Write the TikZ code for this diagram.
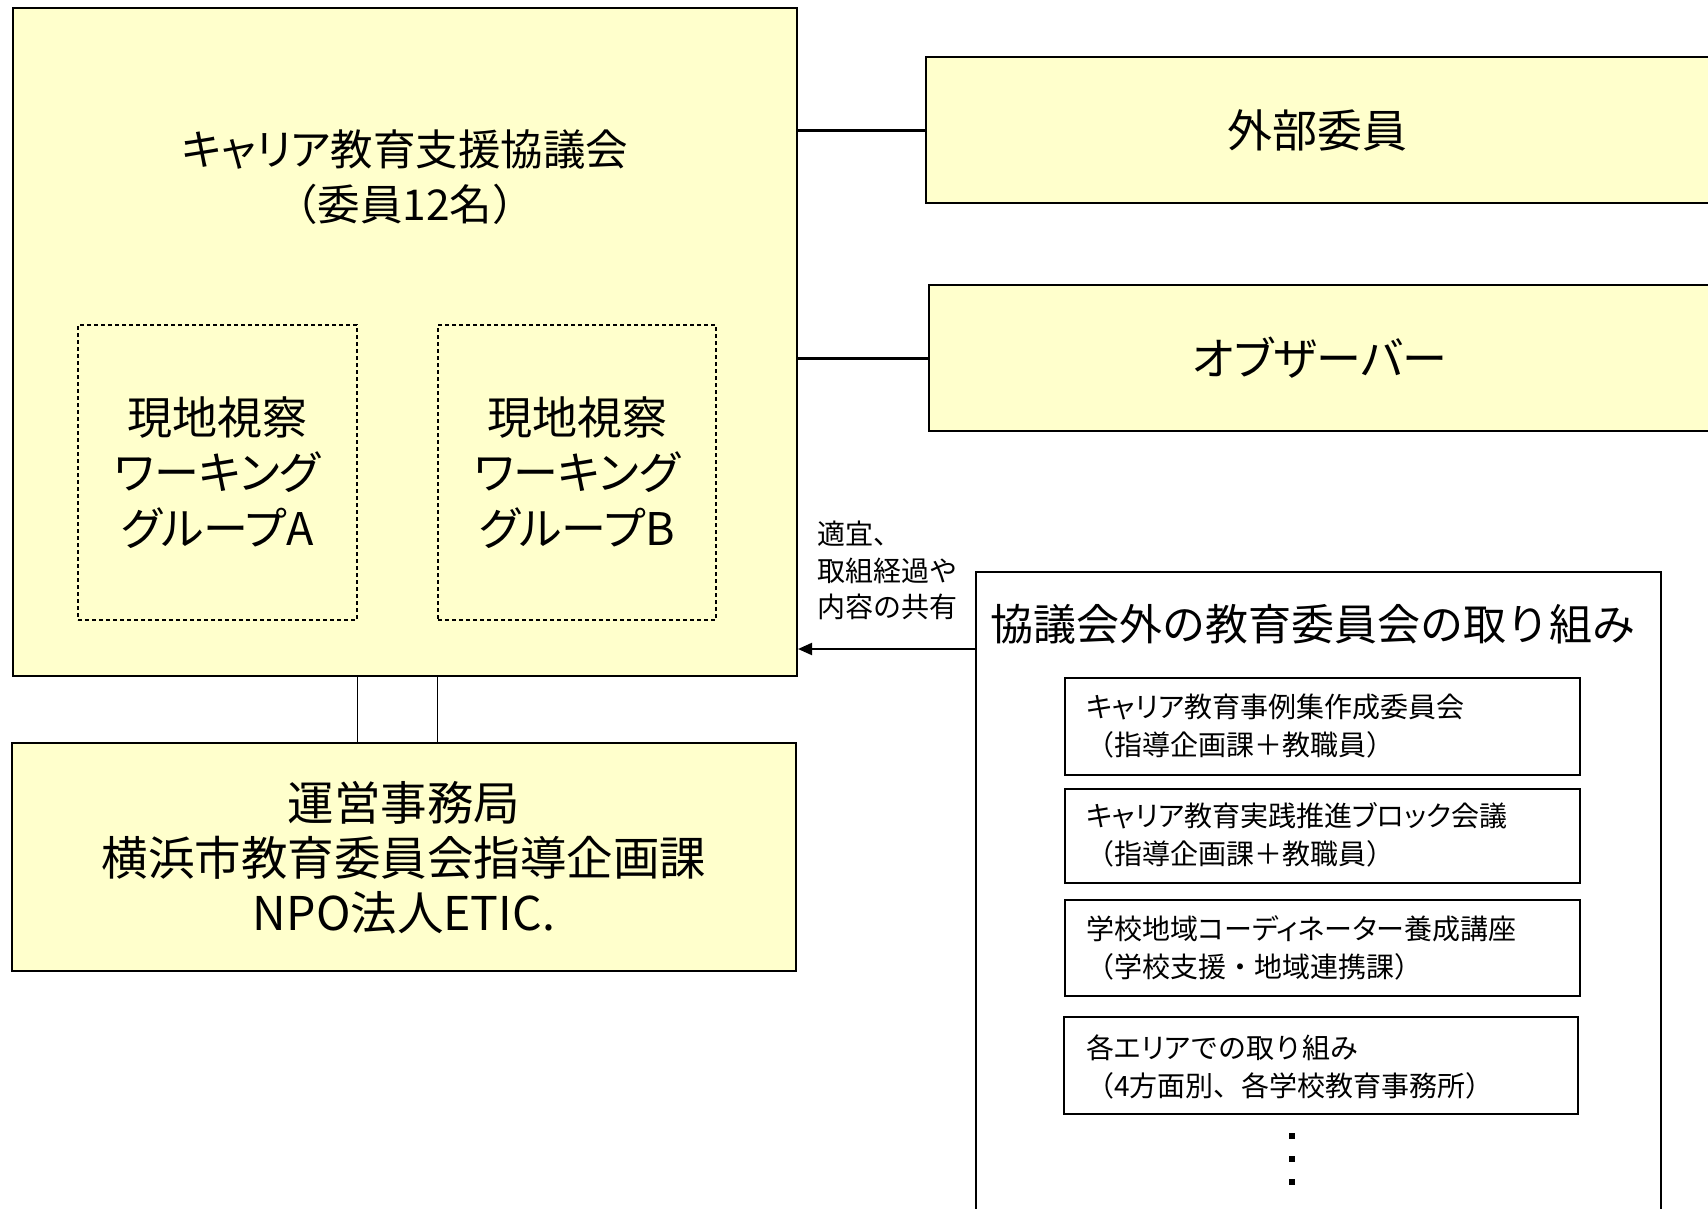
\documentclass[tikz,border=0pt]{standalone}
\usepackage{fontspec}
\setmainfont{Noto Sans CJK JP}
\newfontfamily\kp[CharacterWidth=AlternateProportional]{Noto Sans CJK JP}
\usetikzlibrary{arrows.meta}
\definecolor{boxyellow}{HTML}{FFFFCC}
\tikzset{
  ybox/.style={draw=black, line width=2pt, fill=boxyellow, inner sep=0pt, anchor=center},
  wbox/.style={draw=black, line width=2pt, fill=white, inner sep=0pt, anchor=center},
  dbox/.style={draw=black, line width=1.3pt, dash pattern=on 4pt off 3pt, fill=boxyellow, inner sep=0pt, anchor=center},
  bigtxt/.style={align=center, inner sep=0pt, font=\fontsize{42.5pt}{55.6pt}\selectfont},
  wgtxt/.style={align=center, inner sep=0pt, font=\fontsize{45pt}{55.5pt}\selectfont},
  sectxt/.style={align=center, inner sep=0pt, font=\fontsize{46.5pt}{55pt}\selectfont},
  smalltxt/.style={align=left, inner sep=0pt, anchor=west, font=\fontsize{28pt}{38pt}\selectfont},
  lbltxt/.style={align=left, inner sep=0pt, anchor=north west, font=\fontsize{28pt}{36.5pt}\selectfont},
  link/.style={draw=black, line width=3pt},
  thin/.style={draw=black, line width=1.5pt},
}
\begin{document}
\begin{tikzpicture}[x=1pt, y=-1pt]
\clip (0,0) rectangle (1708,1208);
\fill[white] (0,0) rectangle (1708,1208);

% main council box
\node[ybox, minimum width=784pt, minimum height=668pt] (main) at (405,342) {};
\node[bigtxt] (maintitle) at (405,177) {{\kp キャリア}教育支援協議会\\（委員12名）};

% working groups
\node[dbox, minimum width=279pt, minimum height=295pt] (wgA) at (217.5,472.5) {};
\node[wgtxt] (wgAt) at (wgA.center) {現地視察\\{\kp ワーキング}\\{\kp グループ}A};
\node[dbox, minimum width=278pt, minimum height=295pt] (wgB) at (577,472.5) {};
\node[wgtxt] (wgBt) at (wgB.center) {現地視察\\{\kp ワーキング}\\{\kp グループ}B};

% external members / observers
\node[ybox, minimum width=786pt, minimum height=146pt] (ext) at (1319,130) {};
\node[wgtxt] (extt) at (1317,130) {外部委員};
\node[ybox, minimum width=783pt, minimum height=146pt] (obs) at (1320.5,358) {};
\node[wgtxt] (obst) at (1320,358) {\kp オブザーバー};

\draw[link] (ext.west) -- (ext.west -| main.east);
\draw[link] (obs.west) -- (obs.west -| main.east);

% secretariat
\node[ybox, minimum width=784pt, minimum height=228pt] (sec) at (404,857) {};
\node[sectxt] (sect) at (404,858) {運営事務局\\横浜市教育委員会指導企画課\\NPO法人ETIC.};

\draw[thin] (wgA.east |- main.south) -- (wgA.east |- sec.north);
\draw[thin] (wgB.west |- main.south) -- (wgB.west |- sec.north);

% other initiatives
\node[wbox, minimum width=685pt, minimum height=660pt] (other) at (1318.5,902) {};
\node[inner sep=0pt, font=\fontsize{43pt}{50pt}\selectfont] (othert) at (1313,624) {協議会外の教育委員会の取り組み};

\coordinate (ar) at (976,649);
\draw[draw=black, line width=2pt, -{Triangle[length=14pt,width=12pt]}] (ar) -- (ar -| main.east);
\node[lbltxt] (arlbl) at (817,521) {適宜、\\取組経過や\\内容の共有};

\node[wbox, minimum width=515pt, minimum height=97pt] (i1) at (1322.5,726.5) {};
\node[smalltxt] (i1t) at (1086,726) {{\kp キャリア}教育事例集作成委員会\\（指導企画課＋教職員）};
\node[wbox, minimum width=515pt, minimum height=94pt] (i2) at (1322.5,836) {};
\node[smalltxt] (i2t) at (1086,835) {{\kp キャリア}教育実践推進{\kp ブロック}会議\\（指導企画課＋教職員）};
\node[wbox, minimum width=515pt, minimum height=96pt] (i3) at (1322.5,948) {};
\node[smalltxt] (i3t) at (1086,948) {学校地域{\kp コーディネーター}養成講座\\（学校支援・地域連携課）};
\node[wbox, minimum width=514pt, minimum height=97pt] (i4) at (1321,1065.5) {};
\node[smalltxt] (i4t) at (1086,1067) {各{\kp エリア}での取り組み\\（4方面別、各学校教育事務所）};

% continuation dots
\fill[black] (1289,1133) rectangle (1295,1139);
\fill[black] (1289,1156) rectangle (1295,1162);
\fill[black] (1289,1179) rectangle (1295,1185);
\end{tikzpicture}
\end{document}
